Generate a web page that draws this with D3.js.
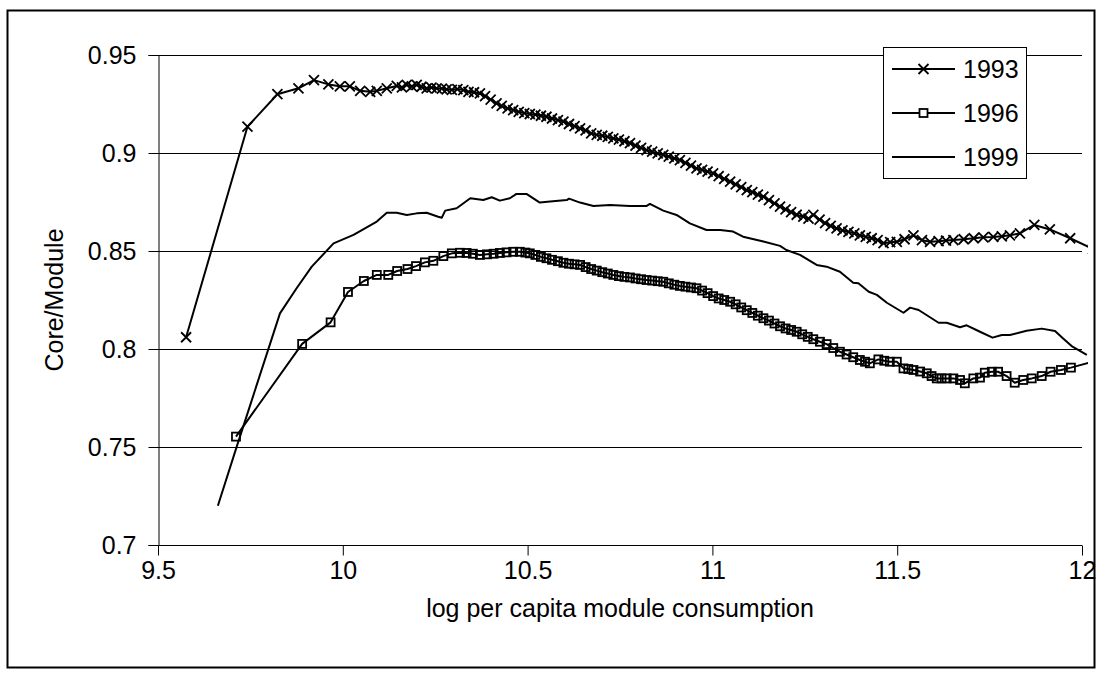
<!DOCTYPE html>
<html><head><meta charset="utf-8">
<script src="https://cdn.jsdelivr.net/npm/d3@7"></script>
<style>body{margin:0;background:#fff}svg{display:block}text{font-family:"Liberation Sans",Arial,sans-serif;fill:#000}</style>
</head><body><svg id="c" width="1102" height="679"></svg>
<script>
const yTicks=[0.7,0.75,0.8,0.85,0.9,0.95];
const xTicks=[9.5,10,10.5,11,11.5,12];
const seriesNames=["1993","1996","1999"];
const s1993=[[9.576,0.806],[9.742,0.9134],[9.823,0.930],[9.880,0.933],[9.922,0.9372],[9.961,0.935],[9.992,0.934],[10.019,0.934],[10.047,0.9317],[10.074,0.9312],[10.092,0.9317],[10.119,0.933],[10.146,0.9342],[10.160,0.9335],[10.173,0.9347],[10.187,0.9340],[10.200,0.9347],[10.213,0.9338],[10.227,0.933],[10.240,0.9334],[10.254,0.933],[10.268,0.9328],[10.281,0.9325],[10.295,0.9322],[10.310,0.9326],[10.326,0.9321],[10.340,0.9312],[10.355,0.9310],[10.371,0.9304],[10.385,0.9290],[10.400,0.9272],[10.416,0.9253],[10.430,0.9240],[10.446,0.9228],[10.461,0.9219],[10.476,0.9210],[10.491,0.9204],[10.506,0.9199],[10.521,0.9196],[10.536,0.9190],[10.551,0.9185],[10.566,0.9176],[10.582,0.9168],[10.597,0.9160],[10.612,0.9148],[10.627,0.9137],[10.642,0.9126],[10.657,0.9115],[10.672,0.9100],[10.687,0.9092],[10.702,0.9088],[10.717,0.9082],[10.732,0.9075],[10.747,0.9068],[10.762,0.9060],[10.777,0.9050],[10.792,0.9038],[10.807,0.9026],[10.822,0.9015],[10.837,0.9007],[10.852,0.8998],[10.867,0.8990],[10.882,0.8982],[10.897,0.8972],[10.912,0.8964],[10.927,0.8950],[10.942,0.8936],[10.957,0.8922],[10.972,0.8914],[10.987,0.8905],[11.002,0.8896],[11.017,0.8882],[11.032,0.8868],[11.048,0.8854],[11.063,0.8840],[11.078,0.8826],[11.093,0.8811],[11.108,0.8800],[11.123,0.8788],[11.138,0.8777],[11.153,0.8760],[11.168,0.8743],[11.183,0.8726],[11.198,0.8712],[11.213,0.8698],[11.228,0.8685],[11.246,0.8675],[11.260,0.8665],[11.273,0.8684],[11.290,0.8660],[11.305,0.8642],[11.320,0.8628],[11.336,0.8616],[11.352,0.8605],[11.368,0.8598],[11.384,0.8590],[11.399,0.8580],[11.415,0.8572],[11.431,0.8565],[11.447,0.8556],[11.463,0.8540],[11.481,0.8545],[11.499,0.8547],[11.520,0.8560],[11.544,0.8580],[11.567,0.8555],[11.589,0.8547],[11.612,0.8550],[11.632,0.8553],[11.652,0.8556],[11.680,0.8560],[11.707,0.8565],[11.733,0.8570],[11.760,0.8572],[11.783,0.8575],[11.805,0.8580],[11.832,0.8590],[11.871,0.8633],[11.913,0.8610],[11.968,0.8565],[12.030,0.851]];
const s1996=[[9.711,0.7553],[9.890,0.8026],[9.967,0.8136],[10.014,0.8291],[10.057,0.8347],[10.092,0.8378],[10.123,0.8378],[10.147,0.8398],[10.175,0.8408],[10.198,0.8423],[10.222,0.8442],[10.245,0.8450],[10.272,0.8474],[10.295,0.8488],[10.317,0.8491],[10.335,0.8490],[10.352,0.8486],[10.371,0.8480],[10.390,0.8483],[10.408,0.8486],[10.425,0.8490],[10.443,0.8493],[10.461,0.8496],[10.479,0.8496],[10.494,0.8492],[10.506,0.8488],[10.521,0.8480],[10.536,0.8470],[10.551,0.8463],[10.566,0.8455],[10.582,0.8448],[10.597,0.8440],[10.612,0.8435],[10.627,0.8432],[10.642,0.8429],[10.657,0.8418],[10.672,0.8408],[10.687,0.8400],[10.702,0.8392],[10.717,0.8385],[10.732,0.8378],[10.747,0.8372],[10.762,0.8368],[10.777,0.8365],[10.792,0.8360],[10.807,0.8356],[10.822,0.8352],[10.837,0.8349],[10.852,0.8346],[10.867,0.8343],[10.882,0.8335],[10.897,0.8328],[10.912,0.8322],[10.927,0.8318],[10.942,0.8314],[10.957,0.8310],[10.972,0.8298],[10.987,0.8285],[11.002,0.8270],[11.017,0.8258],[11.032,0.8250],[11.048,0.8241],[11.063,0.8228],[11.078,0.8212],[11.093,0.8198],[11.108,0.8184],[11.123,0.8170],[11.138,0.8157],[11.153,0.8145],[11.168,0.8130],[11.183,0.8116],[11.198,0.8105],[11.213,0.8097],[11.228,0.8088],[11.243,0.8075],[11.258,0.8062],[11.273,0.8050],[11.291,0.8037],[11.309,0.8025],[11.327,0.8005],[11.345,0.7986],[11.363,0.7972],[11.381,0.7958],[11.399,0.7944],[11.413,0.7935],[11.426,0.7927],[11.449,0.7947],[11.465,0.7940],[11.480,0.7935],[11.499,0.7935],[11.517,0.7901],[11.530,0.7898],[11.544,0.7893],[11.562,0.7885],[11.580,0.7876],[11.593,0.7862],[11.607,0.7850],[11.620,0.7850],[11.634,0.7850],[11.652,0.7850],[11.670,0.7842],[11.683,0.7825],[11.706,0.7850],[11.724,0.7854],[11.737,0.7879],[11.756,0.7884],[11.773,0.7884],[11.796,0.7862],[11.818,0.7828],[11.841,0.7842],[11.864,0.7850],[11.891,0.7862],[11.915,0.7884],[11.943,0.7893],[11.970,0.7905],[12.030,0.7935]];
const s1999=[[9.662,0.720],[9.713,0.7502],[9.830,0.8182],[9.875,0.831],[9.916,0.842],[9.975,0.8539],[10.029,0.8582],[10.092,0.865],[10.119,0.8695],[10.146,0.8695],[10.173,0.8684],[10.200,0.8692],[10.227,0.8695],[10.258,0.8675],[10.268,0.867],[10.277,0.8706],[10.308,0.8718],[10.345,0.8769],[10.380,0.876],[10.403,0.8774],[10.425,0.8757],[10.452,0.8769],[10.470,0.8791],[10.497,0.8791],[10.533,0.8747],[10.561,0.8752],[10.606,0.876],[10.612,0.8767],[10.642,0.8747],[10.678,0.873],[10.723,0.8735],[10.777,0.873],[10.822,0.873],[10.831,0.874],[10.867,0.8706],[10.903,0.8684],[10.939,0.8641],[10.984,0.8607],[11.021,0.8607],[11.056,0.8599],[11.083,0.8573],[11.138,0.8548],[11.183,0.8526],[11.200,0.8505],[11.237,0.848],[11.282,0.8429],[11.309,0.842],[11.345,0.8394],[11.381,0.8338],[11.395,0.8335],[11.423,0.8292],[11.445,0.8276],[11.472,0.8236],[11.517,0.8185],[11.535,0.8211],[11.558,0.8199],[11.612,0.8134],[11.634,0.8134],[11.670,0.8111],[11.688,0.8121],[11.724,0.8088],[11.758,0.8058],[11.783,0.8071],[11.805,0.8071],[11.850,0.8093],[11.891,0.8104],[11.927,0.8092],[11.949,0.8054],[11.972,0.8015],[12.013,0.797]];

const svg=d3.select("#c");
const L=158,R=1082,T=55,B=545;
const x=d3.scaleLinear().domain([9.5,12]).range([L,R]);
const y=d3.scaleLinear().domain([0.7,0.95]).range([B,T]);
const FS=25;

svg.append("rect").attr("x",7.5).attr("y",10.5).attr("width",1087).attr("height",657).attr("fill","#fff").attr("stroke","#000").attr("stroke-width",2);

svg.append("defs").append("clipPath").attr("id","clip").append("rect").attr("x",L-10).attr("y",T-15).attr("width",R-L+16).attr("height",B-T+30);

// gridlines
svg.append("g").selectAll("line").data(yTicks.filter(d=>d>0.7)).join("line")
 .attr("x1",L).attr("x2",R).attr("y1",d=>Math.round(y(d))+0.5).attr("y2",d=>Math.round(y(d))+0.5)
 .attr("stroke","#000").attr("stroke-width",1);

// axes
const ya=svg.append("g").attr("transform",`translate(${L+0.5},0)`).call(d3.axisLeft(y).tickValues(yTicks).tickFormat(d=>String(d)).tickSize(10).tickPadding(12));
const xa=svg.append("g").attr("transform",`translate(0,${B+0.5})`).call(d3.axisBottom(x).tickValues(xTicks).tickFormat(d=>String(d)).tickSize(10).tickPadding(6));
[ya,xa].forEach(a=>{a.select(".domain").attr("stroke","#000").attr("stroke-width",1);a.selectAll(".tick line").attr("stroke","#000");a.selectAll("text").attr("font-size",FS).attr("font-family","'Liberation Sans',Arial,sans-serif").attr("fill","#000");});
xa.select(".domain").attr("d",`M${L},0H${R}`);

svg.append("text").attr("x",(L+R)/2).attr("y",617).attr("text-anchor","middle").attr("font-size",FS).text("log per capita module consumption");
svg.append("text").attr("transform",`translate(63,${(T+B)/2}) rotate(-90)`).attr("text-anchor","middle").attr("font-size",FS).text("Core/Module");

const line=d3.line().x(d=>x(d[0])).y(d=>y(d[1]));
const plot=svg.append("g").attr("clip-path","url(#clip)");
const data=[s1993,s1996,s1999];
data.forEach(s=>plot.append("path").datum(s).attr("d",line).attr("fill","none").attr("stroke","#000").attr("stroke-width",2).attr("stroke-linejoin","round"));

function xMark(g,cx,cy){const r=5;g.append("path").attr("d",`M${cx-r},${cy-r}L${cx+r},${cy+r}M${cx-r},${cy+r}L${cx+r},${cy-r}`).attr("stroke","#000").attr("stroke-width",1.8).attr("fill","none");}
function sqMark(g,cx,cy,fill){const r=4;g.append("rect").attr("x",cx-r).attr("y",cy-r).attr("width",2*r).attr("height",2*r).attr("fill",fill).attr("stroke","#000").attr("stroke-width",1.8);}
s1993.forEach(d=>xMark(plot,x(d[0]),y(d[1])));
s1996.forEach(d=>sqMark(plot,x(d[0]),y(d[1]),"none"));

// legend
const lg=svg.append("g");
lg.append("rect").attr("x",883.5).attr("y",47.5).attr("width",143).attr("height",131).attr("fill","#fff").attr("stroke","#000").attr("stroke-width",1);
const ly=[69,113,157];
seriesNames.forEach((n,i)=>{
 lg.append("line").attr("x1",892).attr("x2",955).attr("y1",ly[i]).attr("y2",ly[i]).attr("stroke","#000").attr("stroke-width",2);
 if(i===0)xMark(lg,923.5,ly[i]);
 if(i===1)sqMark(lg,923.5,ly[i],"#fff");
 lg.append("text").attr("x",963).attr("y",ly[i]).attr("dy","0.35em").attr("font-size",FS).text(n);
});
</script></body></html>
